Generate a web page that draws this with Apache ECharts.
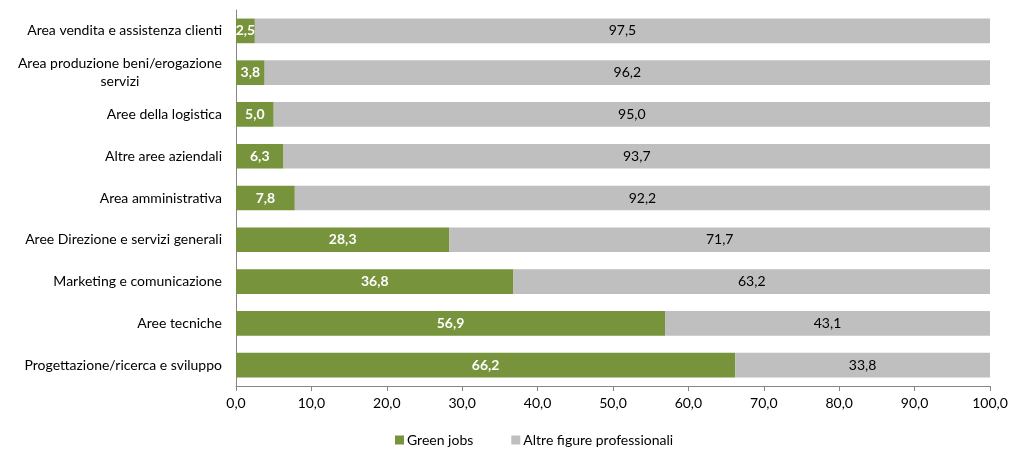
<!DOCTYPE html>
<html><head><meta charset="utf-8">
<script src="https://cdn.jsdelivr.net/npm/echarts@6/dist/echarts.min.js"></script>
<style>html,body{margin:0;padding:0;background:#fff}#c{width:1024px;height:459px}</style>
</head><body><div id="c"></div>
<script>
var categories = [
  'Area vendita e assistenza clienti',
  'Area produzione beni/erogazione servizi',
  'Aree della logistica',
  'Altre aree aziendali',
  'Area amministrativa',
  'Aree Direzione e servizi generali',
  'Marketing e comunicazione',
  'Aree tecniche',
  'Progettazione/ricerca e sviluppo'
];
var greenJobs = [2.5, 3.8, 5.0, 6.3, 7.8, 28.3, 36.8, 56.9, 66.2];
var altreFigure = [97.5, 96.2, 95.0, 93.7, 92.2, 71.7, 63.2, 43.1, 33.8];
var xTicks = [0, 10, 20, 30, 40, 50, 60, 70, 80, 90, 100];
var seriesNames = ['Green jobs', 'Altre figure professionali'];

var FONT = 'Lato, "Open Sans", sans-serif';
function fmt(v){ return Number(v).toFixed(1).replace('.', ','); }

var chart = echarts.init(document.getElementById('c'), null, {renderer:'canvas'});
chart.setOption({
  animation: false,
  textStyle: {fontFamily: FONT},
  grid: {left: 236, right: 34, top: 10, bottom: 73},
  legend: {
    data: seriesNames,
    left: 390, top: 428,
    itemWidth: 9, itemHeight: 9, itemGap: 38,
    icon: 'rect',
    textStyle: {fontFamily: FONT, fontSize: 14, color: '#000', padding: [0,0,0,-2]}
  },
  xAxis: {
    type: 'value', min: xTicks[0], max: xTicks[xTicks.length-1], interval: 10,
    axisLine: {show: true, lineStyle: {color: '#868686'}},
    axisTick: {show: true, length: 5, lineStyle: {color: '#868686'}},
    splitLine: {show: false},
    axisLabel: {formatter: fmt, color: '#000', fontSize: 14, fontFamily: FONT, margin: 10}
  },
  yAxis: {
    type: 'category', data: categories, inverse: true,
    axisLine: {show: true, lineStyle: {color: '#868686'}},
    axisTick: {show: false},
    axisLabel: {
      color: '#000', fontSize: 14, fontFamily: FONT, margin: 14, lineHeight: 18,
      formatter: function(v){
        if (v.length > 33) {
          var i = v.lastIndexOf(' ');
          return '{c|' + v.slice(0, i) + '}\n{c|' + v.slice(i+1) + '}';
        }
        return v;
      },
      rich: {c: {align: 'center', fontSize: 14, fontFamily: FONT, color: '#000', lineHeight: 18}}
    }
  },
  series: [
    {
      name: seriesNames[0], type: 'bar', stack: 'tot', data: greenJobs, barWidth: '59%',
      itemStyle: {color: '#77933C'},
      label: {show: true, position: 'inside', formatter: function(p){return fmt(p.value);},
        color: '#fff', fontWeight: 'bold', fontSize: 14, fontFamily: FONT}
    },
    {
      name: seriesNames[1], type: 'bar', stack: 'tot', data: altreFigure, barWidth: '59%',
      itemStyle: {color: '#BFBFBF'},
      label: {show: true, position: 'inside', formatter: function(p){return fmt(p.value);},
        color: '#000', fontSize: 14, fontFamily: FONT}
    }
  ]
});
</script></body></html>
